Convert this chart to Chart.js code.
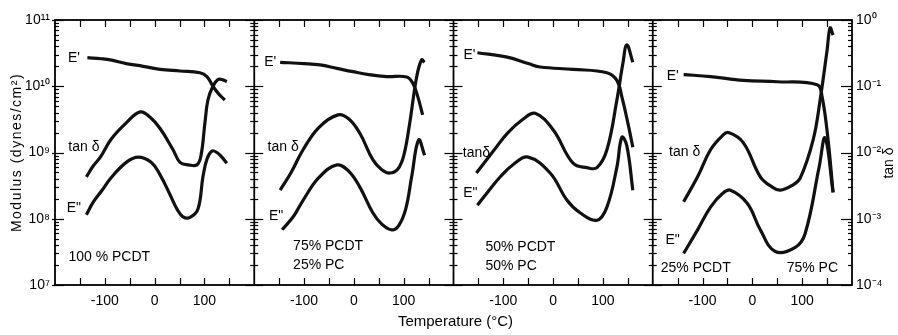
<!DOCTYPE html>
<html>
<head>
<meta charset="utf-8">
<script src="https://cdn.jsdelivr.net/npm/chart.js@4.4.0/dist/chart.umd.min.js"></script>
<style>
  html, body { margin: 0; padding: 0; background: #fff; }
</style>
</head>
<body>
<canvas id="dmaChart" width="898" height="335"></canvas>
<script>
// temperatures (°C) and readings taken off each panel
// E' and E" in dynes/cm2 (left axis), tan d on the right axis
var storT1 = [-135, -107, -89, -57, -23, 11, 51, 91, 105, 117, 129, 141];
var stor1  = [2.7e10, 2.6e10, 2.5e10, 2.2e10, 2.0e10, 1.8e10, 1.7e10, 1.6e10, 1.4e10, 1.0e10, 7.6e9, 6.2e9];
var tanT1  = [-137, -123, -109, -87, -57, -29, -9, 11, 37, 51, 68, 85, 93, 101, 107, 117, 127, 137, 145];
var tan1   = [4.3e-3, 6.3e-3, 8.5e-3, 1.6e-2, 2.8e-2, 4.1e-2, 3.4e-2, 2.3e-2, 1.1e-2, 7.1e-3, 6.5e-3, 6.5e-3, 8.9e-3, 2.8e-2, 6.2e-2, 0.1, 0.126, 0.125, 0.117];
var lossT1 = [-137, -123, -107, -87, -57, -33, -7, 11, 31, 45, 57, 71, 87, 97, 105, 115, 125, 135, 145];
var loss1  = [1.15e8, 1.8e8, 2.6e8, 4.2e8, 7.1e8, 8.5e8, 7.1e8, 4.6e8, 2.3e8, 1.4e8, 1.07e8, 1.05e8, 1.4e8, 4.3e8, 7.9e8, 1.05e9, 1.0e9, 8.5e8, 6.9e8];

var storT2 = [-148, -100, -68, -34, -2, 30, 66, 106, 118, 128, 138];
var stor2  = [2.3e10, 2.2e10, 2.1e10, 1.86e10, 1.66e10, 1.5e10, 1.4e10, 1.38e10, 1.12e10, 7.1e9, 3.7e9];
var tanT2  = [-148, -126, -102, -70, -32, -10, 12, 38, 56, 72, 88, 100, 112, 126, 136, 142];
var tan2   = [2.7e-3, 5.0e-3, 1.1e-2, 2.4e-2, 3.7e-2, 3.2e-2, 1.95e-2, 7.8e-3, 5.5e-3, 4.9e-3, 5.6e-3, 8.9e-3, 2.75e-2, 0.138, 0.25, 0.23];
var lossT2 = [-144, -120, -102, -70, -34, -10, 12, 38, 56, 76, 90, 104, 116, 130, 142];
var loss2  = [6.8e7, 1.12e8, 1.9e8, 4.2e8, 6.5e8, 5.2e8, 3.0e8, 1.23e8, 8.3e7, 6.8e7, 7.9e7, 1.4e8, 4.3e8, 1.55e9, 9.1e8];

var storT3 = [-152, -92, -50, -26, 40, 108, 128, 138, 150, 160];
var stor3  = [3.2e10, 2.75e10, 2.2e10, 1.95e10, 1.8e10, 1.6e10, 1.23e10, 6.9e9, 2.8e9, 1.2e9];
var tanT3  = [-154, -120, -92, -60, -36, 0, 40, 68, 88, 108, 128, 140, 148, 160];
var tan3   = [4.9e-3, 1.05e-2, 1.95e-2, 3.2e-2, 3.9e-2, 2.2e-2, 6.9e-3, 5.9e-3, 5.9e-3, 1.1e-2, 6.2e-2, 0.22, 0.42, 0.23];
var lossT3 = [-152, -130, -106, -80, -50, -6, 28, 54, 88, 108, 128, 138, 148, 160];
var loss3  = [1.6e8, 2.6e8, 4.3e8, 6.6e8, 8.5e8, 4.9e8, 1.9e8, 1.23e8, 9.5e7, 1.5e8, 6.0e8, 1.7e9, 1.26e9, 2.7e8];

var storT4 = [-138, -84, -18, 50, 130, 140, 152, 162];
var stor4  = [1.5e10, 1.4e10, 1.23e10, 1.17e10, 1.05e10, 6.9e9, 1.55e9, 2.5e8];
var tanT4  = [-138, -110, -84, -60, -48, -18, 16, 40, 56, 80, 96, 122, 136, 150, 156, 162];
var tan4   = [1.8e-3, 4.3e-3, 1.1e-2, 1.8e-2, 2.0e-2, 1.4e-2, 4.3e-3, 3.0e-3, 2.7e-3, 3.2e-3, 4.1e-3, 1.55e-2, 6.2e-2, 0.35, 0.76, 0.59];
var lossT4 = [-138, -110, -84, -60, -44, -10, 16, 46, 86, 106, 134, 146, 162];
var loss4  = [3.0e7, 6.8e7, 1.5e8, 2.4e8, 2.7e8, 1.7e8, 6.8e7, 3.2e7, 3.7e7, 6.0e7, 6.0e8, 1.66e9, 2.5e8];

var compositions = [['100 % PCDT'], ['75% PCDT', '25% PC'], ['50% PCDT', '50% PC'], ['25% PCDT', '75% PC']];
var tanLabels = ['tan δ', 'tan δ', 'tanδ', 'tan δ'];
var xTickLabels = [-100, 0, 100];

var FONT = "'Liberation Sans', Arial, sans-serif";
var panelAxes = ['x1', 'x2', 'x3', 'x4'];

// where the curve names sit: [T, modulus-axis value] per panel
var notePos = [
  { stor: [-162, 2.7e10], tan: [-142, 1.2e9], loss: [-162, 1.45e8], comp: [-173, 2.6e7] },
  { stor: [-168, 2.35e10], tan: [-142, 1.2e9], loss: [-156, 1.1e8], comp: [-122, 3.9e7] },
  { stor: [-168, 2.9e10], tan: [-154, 9.8e8], loss: [-166, 2.45e8], comp: [-136, 3.7e7] },
  { stor: [-160, 1.4e10], tan: [-136, 1.0e9], loss: [-160, 4.8e7], comp: [-184, 1.8e7] }
];

function pts(xs, ys) {
  return xs.map(function(x, i) { return { x: x, y: ys[i] }; });
}

var supMap = { '0': '⁰', '1': '¹', '2': '²', '3': '³', '4': '⁴', '5': '⁵', '6': '⁶', '7': '⁷', '8': '⁸', '9': '⁹', '-': '⁻' };
function powLabel(v) {
  var p = Math.log10(v);
  if (Math.abs(p - Math.round(p)) > 1e-6) return '';
  return '10' + String(Math.round(p)).split('').map(function(c) { return supMap[c]; }).join('');
}

var series = [
  [storT1, stor1, tanT1, tan1, lossT1, loss1],
  [storT2, stor2, tanT2, tan2, lossT2, loss2],
  [storT3, stor3, tanT3, tan3, lossT3, loss3],
  [storT4, stor4, tanT4, tan4, lossT4, loss4]
];

var datasets = [];
series.forEach(function(s, i) {
  var line = { borderColor: '#111', borderWidth: 3.2, pointRadius: 0, tension: 0.4, fill: false, xAxisID: panelAxes[i] };
  datasets.push(Object.assign({ label: "E' " + i, data: pts(s[0], s[1]), yAxisID: 'y' }, line));
  datasets.push(Object.assign({ label: 'tan δ ' + i, data: pts(s[2], s[3]), yAxisID: 'y2' }, line));
  datasets.push(Object.assign({ label: 'E" ' + i, data: pts(s[4], s[5]), yAxisID: 'y' }, line));
});

function xAxis() {
  return {
    type: 'linear', position: 'bottom', stack: 'temp', stackWeight: 1,
    min: -200, max: 200,
    grid: { display: false, drawTicks: false }, border: { display: false },
    ticks: {
      stepSize: 50, autoSkip: false, maxRotation: 0, padding: 8, color: '#000',
      font: { family: FONT, size: 14 },
      callback: function(v) { return xTickLabels.indexOf(v) >= 0 ? String(v) : ''; }
    },
    afterFit: function(s) { s.height = 50; }
  };
}

function seg(ctx, x1, y1, x2, y2) {
  ctx.beginPath();
  ctx.moveTo(x1, y1);
  ctx.lineTo(x2, y2);
  ctx.stroke();
}

var framePlugin = {
  id: 'frame',
  afterDatasetsDraw: function(chart) {
    var ctx = chart.ctx, a = chart.chartArea, sc = chart.scales, ys = sc.y;
    ctx.save();
    ctx.strokeStyle = '#000';
    ctx.fillStyle = '#000';
    ctx.lineWidth = 1.8;
    ctx.strokeRect(a.left, a.top, a.right - a.left, a.bottom - a.top);

    var dividers = panelAxes.slice(1).map(function(id) { return sc[id].getPixelForValue(-200); });
    dividers.forEach(function(x) { seg(ctx, x, a.top, x, a.bottom); });

    // log ticks on the outer axes and on both sides of each divider
    ctx.lineWidth = 1.2;
    for (var p = 7; p <= 11; p++) {
      for (var m = 1; m <= 9; m++) {
        if (p === 11 && m > 1) break;
        var y = Math.round(ys.getPixelForValue(m * Math.pow(10, p))) + 0.5;
        var len = m === 1 ? 9 : 4;
        seg(ctx, a.left - (m === 1 ? 3 : 1), y, a.left + len, y);
        seg(ctx, a.right - len - (m === 1 ? 2 : 0), y, a.right, y);
        dividers.forEach(function(x) { seg(ctx, x - len, y, x + len, y); });
      }
    }

    // temperature ticks, top and bottom, pointing inwards
    panelAxes.forEach(function(id) {
      var s = sc[id];
      for (var t = -150; t <= 150; t += 50) {
        var x = Math.round(s.getPixelForValue(t)) + 0.5;
        seg(ctx, x, a.top, x, a.top + 7);
        seg(ctx, x, a.bottom - 7, x, a.bottom);
      }
    });

    // curve names and compositions
    ctx.font = '14px ' + FONT;
    ctx.textBaseline = 'middle';
    notePos.forEach(function(n, i) {
      var s = sc[panelAxes[i]];
      ctx.textAlign = 'center';
      ctx.fillText("E'", s.getPixelForValue(n.stor[0]), ys.getPixelForValue(n.stor[1]));
      ctx.fillText(tanLabels[i], s.getPixelForValue(n.tan[0]), ys.getPixelForValue(n.tan[1]));
      ctx.fillText('E"', s.getPixelForValue(n.loss[0]), ys.getPixelForValue(n.loss[1]));
      ctx.textAlign = 'left';
      var cx = s.getPixelForValue(n.comp[0]), cy = ys.getPixelForValue(n.comp[1]);
      var comp = compositions[i];
      if (i === 3) {
        ctx.fillText(comp[0], cx, cy);
        ctx.textAlign = 'right';
        ctx.fillText(comp[1], s.getPixelForValue(172), cy);
      } else {
        comp.forEach(function(t, k) { ctx.fillText(t, cx, cy + k * 19); });
      }
    });

    // axis titles
    ctx.textAlign = 'center';
    ctx.save();
    ctx.translate(17, (a.top + a.bottom) / 2);
    ctx.rotate(-Math.PI / 2);
    ctx.letterSpacing = '1.5px';
    ctx.fillText('Modulus (dynes/cm²)', 0, 0);
    ctx.restore();

    ctx.save();
    ctx.translate(889, 163);
    ctx.rotate(-Math.PI / 2);
    ctx.fillText('tan δ', 0, 0);
    ctx.restore();

    ctx.font = '15px ' + FONT;
    ctx.fillText('Temperature (°C)', (a.left + a.right) / 2 + 2, 322);
    ctx.restore();
  }
};

document.addEventListener('DOMContentLoaded', function() {
  var ctx = document.getElementById('dmaChart').getContext('2d');
  Chart.defaults.font.family = FONT;
  Chart.defaults.color = '#000';

  new Chart(ctx, {
    type: 'line',
    data: { datasets: datasets },
    options: {
      responsive: false,
      animation: false,
      layout: { padding: { top: 20, left: 0, right: 0, bottom: 0 } },
      plugins: { legend: { display: false }, tooltip: { enabled: false } },
      scales: {
        x1: xAxis(), x2: xAxis(), x3: xAxis(), x4: xAxis(),
        y: {
          type: 'logarithmic', position: 'left', min: 1e7, max: 1e11,
          grid: { display: false, drawTicks: false }, border: { display: false },
          ticks: { autoSkip: false, padding: 5, color: '#000', font: { family: FONT, size: 14 }, callback: powLabel },
          afterFit: function(s) { s.width = 55; }
        },
        y2: {
          type: 'logarithmic', position: 'right', min: 1e-4, max: 1,
          grid: { display: false, drawTicks: false }, border: { display: false },
          ticks: { autoSkip: false, padding: 4, color: '#000', font: { family: FONT, size: 14 }, callback: powLabel },
          afterFit: function(s) { s.width = 46; }
        }
      }
    },
    plugins: [framePlugin]
  });
});
</script>
</body>
</html>
